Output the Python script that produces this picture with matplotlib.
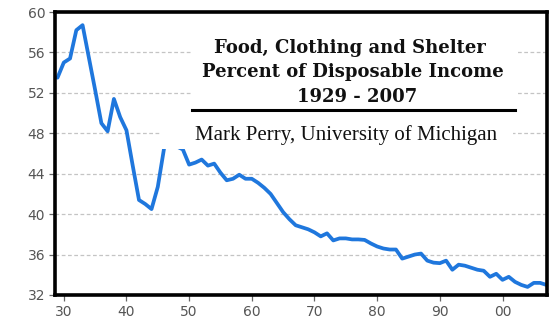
import matplotlib
matplotlib.use("Agg")
import matplotlib.pyplot as plt
from matplotlib.patches import Rectangle
from matplotlib.lines import Line2D

# Food, clothing and shelter spending as a share of disposable income
years = list(range(1929, 2008))
share = [
    53.5, 55.0, 55.4, 58.2, 58.7, 55.5, 52.3, 49.0, 48.2, 51.4,   # 1929-1938
    49.6, 48.3, 44.8, 41.4, 41.0, 40.5, 42.7, 46.5, 48.5, 46.7,   # 1939-1948
    46.4, 44.9, 45.1, 45.4, 44.8, 45.0, 44.1, 43.35, 43.5, 43.9,  # 1949-1958
    43.5, 43.5, 43.1, 42.6, 42.0, 41.1, 40.2, 39.5, 38.9, 38.7,   # 1959-1968
    38.5, 38.2, 37.8, 38.1, 37.4, 37.6, 37.6, 37.5, 37.5, 37.45,  # 1969-1978
    37.1, 36.8, 36.6, 36.5, 36.5, 35.6, 35.8, 36.0, 36.1, 35.4,   # 1979-1988
    35.2, 35.15, 35.4, 34.5, 35.0, 34.9, 34.7, 34.5, 34.4, 33.8,  # 1989-1998
    34.1, 33.5, 33.8, 33.3, 33.0, 32.8, 33.2, 33.2, 33.0,         # 1999-2007
]

xtick_pos = [1930, 1940, 1950, 1960, 1970, 1980, 1990, 2000]
xtick_labels = ["30", "40", "50", "60", "70", "80", "90", "00"]
ytick_pos = [32, 36, 40, 44, 48, 52, 56, 60]

title_lines = ["Food, Clothing and Shelter", "Percent of Disposable Income", "1929 - 2007"]
credit = "Mark Perry, University of Michigan"

W, H = 556, 326
fig = plt.figure(figsize=(W / 100, H / 100), dpi=100)
ax = fig.add_axes([55 / W, 1 - 295 / H, (547 - 55) / W, (295 - 12) / H])

ax.plot(years, share, color="#1f77dd", lw=2.7, solid_joinstyle="round",
        solid_capstyle="round", zorder=2)

ax.set_xlim(1928.6, 2007.1)
ax.set_ylim(32, 60)
ax.set_xticks(xtick_pos)
ax.set_xticklabels(xtick_labels)
ax.set_yticks(ytick_pos)

for y in ytick_pos[1:-1]:
    ax.axhline(y, color="#c4c4c4", lw=0.9, ls=(0, (3, 2)), zorder=1)

for s in ax.spines.values():
    s.set_linewidth(2.6)
    s.set_color("black")
    s.set_zorder(5)

ax.tick_params(axis="both", direction="out", length=4, width=0.9,
               color="#666666", labelcolor="#555555", labelsize=10, pad=3)
for lab in ax.get_xticklabels() + ax.get_yticklabels():
    lab.set_family("DejaVu Sans")


def fx(px):
    return px / W


def fy(py):
    return 1 - py / H


# white panel holding the caption
for x0, y0, x1, y1 in [(193, 28, 516, 113), (160, 112, 513, 149)]:
    fig.add_artist(Rectangle((fx(x0), fy(y1)), fx(x1) - fx(x0), fy(y0) - fy(y1),
                             transform=fig.transFigure, facecolor="white",
                             edgecolor="none", zorder=3))

for txt, py, cx in zip(title_lines, [48, 72.5, 97], [350, 353, 357]):
    fig.text(fx(cx), fy(py), txt, ha="center", va="center", fontsize=13,
             fontweight="bold", family="DejaVu Serif", color="#111111", zorder=4)

fig.add_artist(Line2D([fx(192), fx(515)], [fy(110), fy(110)], color="black",
                      lw=2.2, transform=fig.transFigure, zorder=4))

fig.text(fx(346), fy(135), credit, ha="center", va="center", fontsize=15,
         family="Liberation Serif", color="#111111", zorder=4)

fig.savefig("out.png", dpi=100)
